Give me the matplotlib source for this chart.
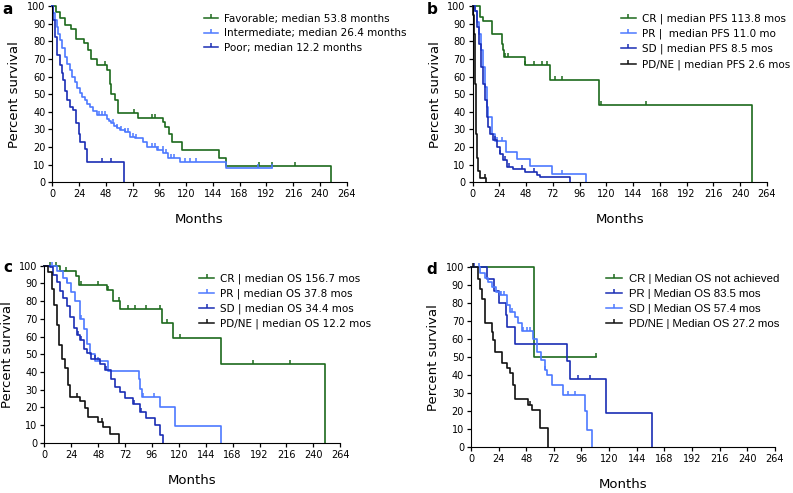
import numpy as np
import matplotlib
matplotlib.use("Agg")
import matplotlib.pyplot as plt
from matplotlib.path import Path
from matplotlib.lines import Line2D

plt.rcParams['font.family'] = ['DejaVu Sans']

GREEN = '#1c6a1c'
LBLUE = '#4d79ff'
DBLUE = '#1a2db4'
BLACK = '#111111'

# ---- panel a: risk groups (OS)
a_fav_t = [3, 7, 11, 17, 21, 28, 32, 35, 40, 49, 52, 53, 56, 59, 77, 99, 101, 105, 107, 116, 150, 156, 250]
a_fav_s = [96.6, 93, 89, 87, 81.5, 79, 75, 70, 66.4, 63.6, 56, 50, 46.6, 39.6, 36.6, 34, 31.5, 27.7, 23, 18.5, 14, 9.2, 0]
a_fav_end = 250
a_fav_cens = [47.3, 73.6, 89, 92, 185, 197, 217.7]

a_int_t = [1, 2.4, 4, 5.5, 6.9, 9, 11.4, 13.5, 15.8, 18, 20.3, 22.5, 24.8, 27, 29.3, 31.5, 33.8, 36.5, 39.8, 48.7, 51, 53, 55.5, 57.7, 61,
           65, 69.7, 74, 78.6, 81.6, 84.6, 93.6, 99.5, 104, 114.5, 156]
a_int_s = [96, 92, 88, 84, 80.6, 76, 71, 67, 63.6, 60, 57, 53.5, 50.4, 48.5, 46.6, 44.5, 42.8, 40.5, 38, 36.2, 35, 33.4, 32, 30.6, 29.5,
           28.7, 25.8, 25.4, 24.9, 23, 20.2, 18.3, 16.4, 13.6, 11.7, 8]
a_int_end = 197
a_int_cens = [41.6, 44.5, 47.5, 54.8, 57.8, 62, 65, 68, 72.4, 75.4, 89, 92, 95, 99, 102, 106.7, 109.6, 119, 123.5, 128.9, 184.5, 197]

a_poor_t = [1, 2.4, 3.9, 6.9, 8.5, 9.9, 11.5, 12.9, 15.8, 18.8, 21, 24, 24.8, 29.3, 30.8, 64.6]
a_poor_s = [92, 82.5, 72, 66.4, 62, 58, 52, 46.6, 42.8, 41, 33.4, 27.7, 23, 19.2, 11.5, 0]
a_poor_end = 64.6
a_poor_cens = [44.9, 52.4]

# ---- panel b: PFS by response
b_cr_t = [6.5, 9.5, 17, 26, 27, 28, 46.6, 69.8, 113.7, 250.5]
b_cr_s = [93.7, 91.5, 84.3, 78.6, 75, 71, 66.4, 58, 43.6, 0]
b_cr_end = 250.5
b_cr_cens = [29, 31.7, 47.3, 54.7, 62.2, 66.7, 74.2, 80.2, 115, 155.8]

b_pr_t = [2, 4.2, 6, 7.5, 9.6, 11, 12.6, 14, 17, 20, 30, 40, 51.5, 71, 101.5]
b_pr_s = [97, 91, 84, 75, 65.5, 54, 42.6, 37, 27.5, 23.3, 17.5, 13.5, 9.1, 4.5, 0]
b_pr_end = 101.5
b_pr_cens = [22, 26, 80]

b_sd_t = [2, 4.2, 6, 7.5, 9.6, 11, 12.6, 14, 15.5, 18.5, 21.5, 24.5, 27.5, 30.5, 36.5, 47, 57.5, 60.4, 87.4]
b_sd_s = [97, 88, 78.6, 65.5, 56, 46.6, 37, 31.4, 27.7, 23.9, 20, 16.3, 12.5, 8.7, 7.8, 5.9, 4, 3, 0]
b_sd_end = 87.4
b_sd_cens = [20, 25, 29, 33, 44, 55]

b_pd_t = [0.6, 1.2, 1.8, 2.7, 3.6, 5, 6.6, 12]
b_pd_s = [95, 84, 56, 27.5, 14, 6.4, 2.7, 0]
b_pd_end = 12
b_pd_cens = [11]

# ---- panel c: OS by response
c_cr_t = [14, 28, 30.7, 55.7, 61, 67.6, 104.8, 115, 157.4, 250.6]
c_cr_s = [97, 94, 89.3, 86.5, 80, 75.3, 67.8, 59.3, 44.6, 0]
c_cr_end = 250.6
c_cr_cens = [5, 10, 19, 33, 48, 57, 67, 75, 81, 91, 103, 109, 121, 186.6, 218.8]

c_pr_t = [11, 17, 20, 24, 27.4, 32, 35, 37.8, 40.8, 45, 57, 84, 85.5, 87, 103, 116.7, 157.4]
c_pr_s = [97, 93, 90, 85, 80, 70, 64, 56, 50, 46, 40.7, 36, 30.5, 26, 20, 9.6, 0]
c_pr_end = 157.4
c_pr_cens = [6.5, 20, 33, 48, 88, 98]

c_sd_t = [5, 8, 11, 14, 17, 20, 23, 26, 29, 32, 35, 38, 42, 50, 54, 59, 63, 67.6, 72, 79.5, 85.4, 91, 99, 103, 106]
c_sd_s = [99, 95, 91, 86, 81.5, 77, 71, 65, 61, 58, 53, 50.5, 47.5, 44.6, 41, 36, 31.6, 28.8, 25, 22, 17.5, 13.7, 10, 4.5, 0]
c_sd_end = 106
c_sd_cens = [30, 33, 45, 55, 80, 86]

c_pd_t = [3.6, 6.5, 8.9, 11, 13.4, 15.5, 18.5, 21.4, 23, 32, 36.3, 39.3, 48, 52.7, 58.6, 67]
c_pd_s = [96.6, 87, 78, 66.5, 55, 47.5, 42, 32.6, 26, 23.5, 19.4, 14.7, 11.5, 9, 4.7, 0]
c_pd_end = 67
c_pd_cens = [29, 51]

# ---- panel d: OS by response (subgroup)
d_cr_t = [55]
d_cr_s = [50]
d_cr_end = 109
d_cr_cens = [109]

d_pr_t = [14, 20, 24, 30, 31, 38, 83, 86, 117, 157]
d_pr_s = [93.3, 86.7, 80, 73.3, 66.7, 57.1, 47.6, 38.1, 19, 0]
d_pr_end = 157
d_pr_cens = [3, 93, 103]

d_sd_t = [8, 12, 15, 18, 22, 25, 31, 34, 38, 41, 44, 53.5, 57, 61, 64, 66, 70, 80, 99, 101, 105.4]
d_sd_s = [97, 94, 91.8, 89, 86, 84.5, 79, 75, 72.5, 69, 64.5, 60, 53, 48.5, 43, 40, 34.6, 28.8, 20, 9.6, 0]
d_sd_end = 105.4
d_sd_cens = [7, 26, 29, 36, 45.4, 48.3, 51.2, 64, 84, 90.3]

d_pd_t = [5.8, 7.8, 9.3, 12, 18, 19.4, 21, 26.6, 31, 34, 36.8, 38.2, 49.8, 52.7, 60, 67.2]
d_pd_s = [93.7, 88, 82.6, 68.8, 64, 59.5, 53, 47, 43.8, 41, 34.6, 27, 23.7, 20.7, 10.4, 0]
d_pd_end = 67.2
d_pd_cens = [2, 51]

TICK = Path([(0, 0), (0, 1)])


def km(ax, t, s, end, cens, color):
    xs = np.r_[0, t, end]
    ys = np.r_[100, s, s[-1]]
    ax.step(xs, ys, where='post', color=color, lw=1.2, clip_on=False)
    ct = np.asarray(cens, dtype=float)
    idx = np.searchsorted(np.r_[0, t], ct, side='right') - 1
    cy = np.r_[100, s][idx]
    ax.plot(ct, cy, ls='none', marker=TICK, ms=6, mew=1.1, color=color, clip_on=False)


def setup(ax):
    ax.set_xlim(0, 264)
    ax.set_ylim(0, 100)
    ax.set_xticks(np.arange(0, 265, 24))
    ax.set_yticks(np.arange(0, 101, 10))
    ax.spines['top'].set_visible(False)
    ax.spines['right'].set_visible(False)
    ax.tick_params(labelsize=7, length=3, width=0.9, pad=2)
    ax.set_xlabel('Months', fontsize=9.5, labelpad=10)
    ax.set_ylabel('Percent survival', fontsize=9.5, labelpad=4)


def legend(ax, colors, labels, x, y, fam='DejaVu Sans', size=7.5):
    handles = [Line2D([0], [0], color=c, lw=1.1, marker=TICK, ms=6, mew=1.1) for c in colors]
    ax.legend(handles, labels, loc='upper left', bbox_to_anchor=(x, y), frameon=False,
              handlelength=1.4, handletextpad=0.6, labelspacing=0.45, borderaxespad=0,
              prop={'size': size, 'family': fam})


fig = plt.figure(figsize=(7.93, 4.93), dpi=100)
ax_a = fig.add_axes([0.066, 0.630, 0.371, 0.358])
ax_b = fig.add_axes([0.596, 0.630, 0.371, 0.358])
ax_c = fig.add_axes([0.056, 0.102, 0.373, 0.359])
ax_d = fig.add_axes([0.594, 0.093, 0.383, 0.365])

for letter, px, py in [('a', 8, 10), ('b', 432, 10), ('c', 8, 268), ('d', 432, 269)]:
    fig.text(px / 793, 1 - py / 493, letter, fontsize=11, fontweight='bold', ha='center', va='center')

setup(ax_a)
km(ax_a, a_fav_t, a_fav_s, a_fav_end, a_fav_cens, GREEN)
km(ax_a, a_int_t, a_int_s, a_int_end, a_int_cens, LBLUE)
km(ax_a, a_poor_t, a_poor_s, a_poor_end, a_poor_cens, DBLUE)
legend(ax_a, [GREEN, LBLUE, DBLUE],
       ['Favorable; median 53.8 months', 'Intermediate; median 26.4 months', 'Poor; median 12.2 months'],
       0.50, 0.98)

setup(ax_b)
km(ax_b, b_cr_t, b_cr_s, b_cr_end, b_cr_cens, GREEN)
km(ax_b, b_pr_t, b_pr_s, b_pr_end, b_pr_cens, LBLUE)
km(ax_b, b_sd_t, b_sd_s, b_sd_end, b_sd_cens, DBLUE)
km(ax_b, b_pd_t, b_pd_s, b_pd_end, b_pd_cens, BLACK)
legend(ax_b, [GREEN, LBLUE, DBLUE, BLACK],
       ['CR | median PFS 113.8 mos', 'PR |  median PFS 11.0 mo', 'SD | median PFS 8.5 mos',
        'PD/NE | median PFS 2.6 mos'],
       0.49, 0.98)

setup(ax_c)
km(ax_c, c_cr_t, c_cr_s, c_cr_end, c_cr_cens, GREEN)
km(ax_c, c_pr_t, c_pr_s, c_pr_end, c_pr_cens, LBLUE)
km(ax_c, c_sd_t, c_sd_s, c_sd_end, c_sd_cens, DBLUE)
km(ax_c, c_pd_t, c_pd_s, c_pd_end, c_pd_cens, BLACK)
legend(ax_c, [GREEN, LBLUE, DBLUE, BLACK],
       ['CR | median OS 156.7 mos', 'PR | median OS 37.8 mos', 'SD | median OS 34.4 mos',
        'PD/NE | median OS 12.2 mos'],
       0.51, 0.98)

setup(ax_d)
km(ax_d, d_cr_t, d_cr_s, d_cr_end, d_cr_cens, GREEN)
km(ax_d, d_pr_t, d_pr_s, d_pr_end, d_pr_cens, DBLUE)
km(ax_d, d_sd_t, d_sd_s, d_sd_end, d_sd_cens, LBLUE)
km(ax_d, d_pd_t, d_pd_s, d_pd_end, d_pd_cens, BLACK)
legend(ax_d, [GREEN, DBLUE, LBLUE, BLACK],
       ['CR | Median OS not achieved', 'PR | Median OS 83.5 mos', 'SD | Median OS 57.4 mos',
        'PD/NE | Median OS 27.2 mos'],
       0.43, 0.99, fam='Liberation Sans', size=8.2)

fig.savefig('out.png', dpi=100)
